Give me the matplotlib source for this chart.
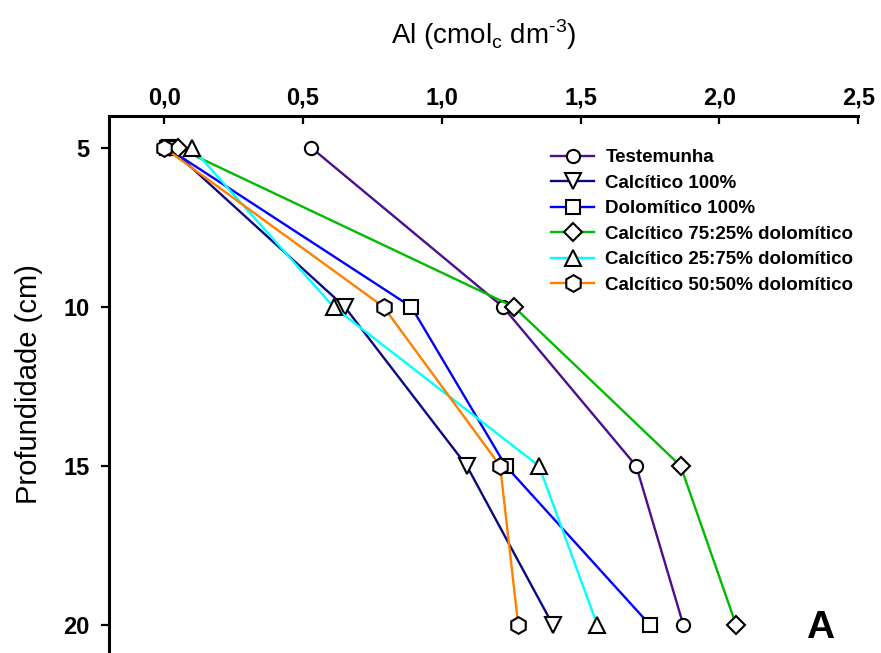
import numpy as np
import matplotlib
matplotlib.use("Agg")
import matplotlib.pyplot as plt

plt.rcParams['font.family'] = ['Liberation Sans', 'DejaVu Sans']

# profundidade (cm) e teores de Al
depth = [5, 10, 15, 20]
testemunha = [0.53, 1.22, 1.70, 1.87]
calcitico_100 = [0.02, 0.65, 1.09, 1.40]
dolomitico_100 = [0.01, 0.89, 1.23, 1.75]
calc_75_25 = [0.05, 1.26, 1.86, 2.06]
calc_25_75 = [0.10, 0.61, 1.35, 1.56]
calc_50_50 = [0.0, 0.79, 1.21, 1.275]

labels = ["Testemunha", "Calcítico 100%", "Dolomítico 100%",
          "Calcítico 75:25% dolomítico", "Calcítico 25:75% dolomítico",
          "Calcítico 50:50% dolomítico"]
series = [testemunha, calcitico_100, dolomitico_100, calc_75_25, calc_25_75, calc_50_50]
colors = ["#4b0f8c", "#0a0a80", "#0000ff", "#00bb00", "#00ffff", "#ff8000"]
markers = ["o", "v", "s", "D", "^", "h"]
msizes = [9.5, 11, 10, 9, 11, 12]
xticks = [0.0, 0.5, 1.0, 1.5, 2.0, 2.5]
yticks = [5, 10, 15, 20]

fig = plt.figure(figsize=(8.81, 6.53), dpi=100)
ax = fig.add_axes([0.1234, 0.0, 0.8508, 0.8224])

for vals, lab, c, m, s in zip(series, labels, colors, markers, msizes):
    ax.plot(vals, depth, color=c, lw=1.7, marker=m, ms=s, mfc='white',
            mec='black', mew=1.5, label=lab)

ax.set_xlim(-0.2, 2.5)
ax.set_ylim(20.88, 4)
ax.xaxis.tick_top()
ax.xaxis.set_label_position('top')
ax.set_xticks(xticks)
ax.set_xticklabels([f"{t:.1f}".replace('.', ',') for t in xticks])
ax.set_yticks(yticks)

for side in ['right', 'bottom']:
    ax.spines[side].set_visible(False)
for side in ['top', 'left']:
    ax.spines[side].set_linewidth(2.2)

ax.tick_params(axis='x', direction='in', length=5.5, width=1.6, pad=5, labelsize=17)
ax.tick_params(axis='y', direction='out', length=6, width=1.6, pad=8, labelsize=17)
for lbl in ax.get_xticklabels() + ax.get_yticklabels():
    lbl.set_fontweight('bold')

ax.set_xlabel("Al (cmol$_\\mathregular{c}$ dm$^\\mathregular{\u20103}$)", fontsize=20, labelpad=30)
ax.set_ylabel("Profundidade (cm)", fontsize=21, labelpad=14)

leg = ax.legend(loc='upper left', bbox_to_anchor=(551 / 881, 1 - 149 / 653),
                bbox_transform=fig.transFigure, frameon=False, borderpad=0,
                borderaxespad=0, handlelength=2.3, handletextpad=0.6,
                labelspacing=0.45, prop={'weight': 'bold', 'size': 13.5})

ax.text(820 / 881, 1 - 628 / 653, "A", transform=fig.transFigure, fontsize=28,
        fontweight='bold', ha='center', va='center')

fig.savefig("out.png", dpi=100)
